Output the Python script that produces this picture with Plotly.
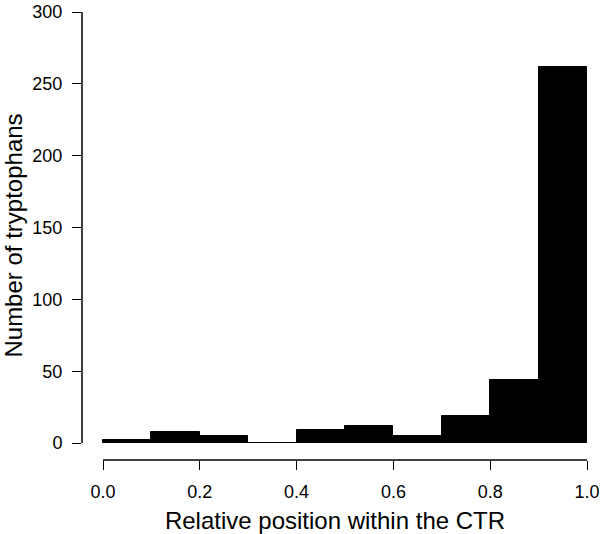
import plotly.graph_objects as go

bin_starts = [0.0, 0.1, 0.2, 0.3, 0.4, 0.5, 0.6, 0.7, 0.8, 0.9]
bin_width = 0.1
counts = [2, 8, 5, 0, 9, 12, 5, 19, 44, 262]
x_ticks = [0.0, 0.2, 0.4, 0.6, 0.8, 1.0]
x_tick_labels = ["0.0", "0.2", "0.4", "0.6", "0.8", "1.0"]
y_ticks = [0, 50, 100, 150, 200, 250, 300]

centers = [s + bin_width / 2 for s in bin_starts]

fig = go.Figure()
fig.add_trace(go.Bar(
    x=centers, y=counts, width=[bin_width] * len(counts),
    marker=dict(color="black", line=dict(color="black", width=1)),
    hoverinfo="x+y",
))

font_family = "Liberation Sans, Arial, Helvetica, sans-serif"

fig.update_layout(
    width=600, height=534,
    margin=dict(l=82, r=12, t=11, b=74),
    plot_bgcolor="white", paper_bgcolor="white",
    showlegend=False,
    bargap=0,
    font=dict(family=font_family, color="black"),
    xaxis=dict(
        range=[-0.0434, 1.002],
        tickvals=x_ticks, ticktext=x_tick_labels,
        ticks="outside", ticklen=9, tickwidth=1.3, tickcolor="black",
        tickfont=dict(size=18, family=font_family, color="black"),
        ticklabelstandoff=6, ticklabeloverflow="allow",
        showgrid=False, zeroline=False, showline=False,
        title=dict(text="Relative position within the CTR",
                   font=dict(size=24, family=font_family, color="black"),
                   standoff=11),
        automargin=False,
    ),
    yaxis=dict(
        range=[-11.75, 300.7],
        tickvals=y_ticks,
        ticks="outside", ticklen=9, tickwidth=1.3, tickcolor="black",
        tickfont=dict(size=18, family=font_family, color="black"),
        ticklabelstandoff=6, ticklabeloverflow="allow",
        showgrid=False, zeroline=False, showline=False,
        title=dict(text="Number of tryptophans",
                   font=dict(size=24, family=font_family, color="black"),
                   standoff=22),
        automargin=False,
    ),
    shapes=[
        dict(type="line", xref="x", yref="paper", x0=x_ticks[0], x1=x_ticks[-1], y0=0, y1=0,
             line=dict(color="black", width=1.5)),
        dict(type="line", xref="paper", yref="y", x0=0, x1=0, y0=y_ticks[0], y1=y_ticks[-1],
             line=dict(color="black", width=1.5)),
    ],
)

fig.write_html("out.html", config={"displayModeBar": False},
               post_script="document.body.style.margin='0';document.body.style.overflow='hidden';")
